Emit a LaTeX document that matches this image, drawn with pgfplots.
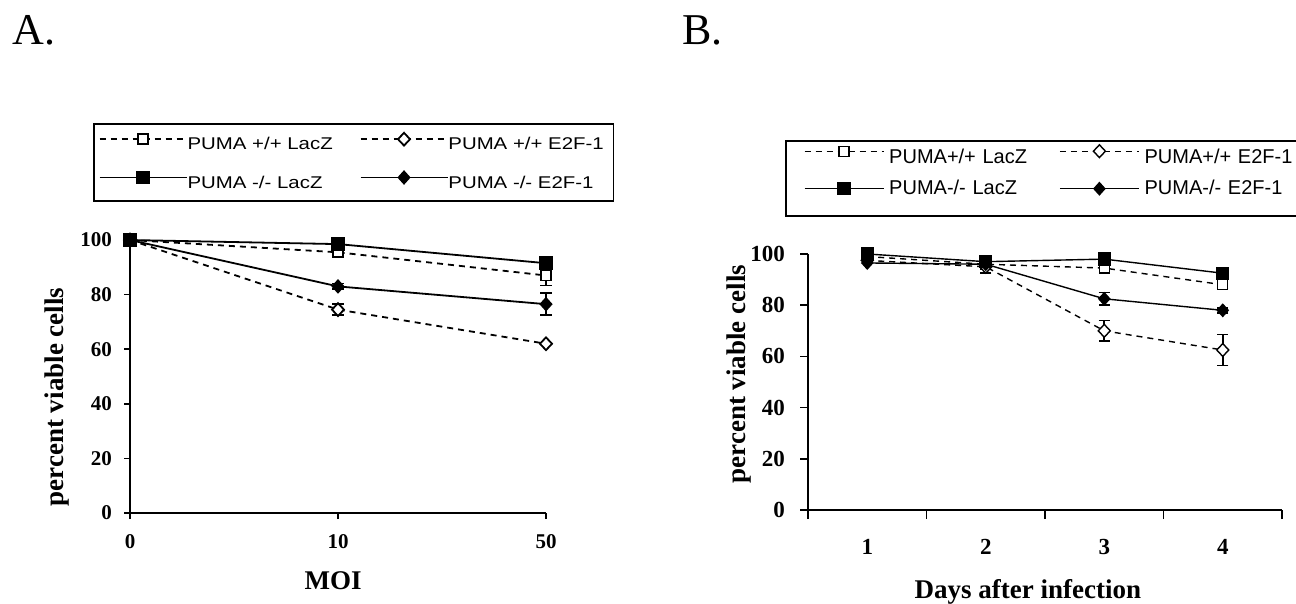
\documentclass[border=0pt]{standalone}
\usepackage{fontspec}
\setmainfont{Liberation Serif}
\newfontfamily\legA[FakeStretch=1.2]{Liberation Sans}
\newfontfamily\legB{Liberation Sans}
\usepackage{pgfplots}
\pgfplotsset{compat=1.18}

\pgfplotsset{
  panel/.style={
    scale only axis, axis lines=left, axis line style={-, line width=0.9pt},
    enlargelimits=false, clip=false, tick align=outside,
    ymin=0, ymax=100, ytick={0,20,...,100},
    /pgf/number format/assume math mode=true,
    every tick/.style={black, line width=0.8pt},
    legend cell align=left,
  },
  % error bars only, drawn under the series
  errs/.style={black, only marks, mark=none, forget plot,
    error bars/.cd, y dir=both, y explicit,
    error bar style={solid, line width=0.8pt},
    error mark options={rotate=90, solid, line width=0.8pt, mark size=2.8pt}},
  wtlac/.style={black, line width=#1, dash pattern=on 3pt off 2.5pt,
    mark=square*, mark size=2.5pt, mark options={solid, fill=white, draw=black}},
  wte2f/.style={black, line width=#1, dash pattern=on 3pt off 2.5pt,
    mark=diamond*, mark size=3.2pt, mark options={solid, fill=white, draw=black, xscale=1.25}},
  kolac/.style={black, line width=#1, solid, mark=square*, mark size=3pt},
  koe2f/.style={black, line width=#1, solid, mark=diamond*, mark size=3pt,
    mark options={xscale=1.2}},
}

\begin{document}
\begin{tikzpicture}
\path[use as bounding box] (0,0) rectangle (648pt,-302pt);

\node[anchor=base west, inner sep=0pt, font=\fontsize{22}{24}\selectfont] at (6pt,-22.5pt) {A.};
\node[anchor=base west, inner sep=0pt, font=\fontsize{22}{24}\selectfont] at (341pt,-22.5pt) {B.};

% panel A: viability against MOI
\begin{axis}[panel,
  at={(65pt,-256.5pt)}, anchor=south west,
  width=208pt, height=136.5pt,
  xmin=0, xmax=2, xtick={0,1,2}, xticklabels={0,10,50},
  major tick length=3pt,
  tick label style={font=\bfseries\fontsize{10.5}{12}\selectfont},
  xticklabel shift=4.3pt, yticklabel shift=2.5pt,
  xlabel={MOI}, ylabel={percent viable cells},
  label style={font=\bfseries\fontsize{13.5}{15}\selectfont},
  xlabel style={at={(axis description cs:0.488,-0.249)}, anchor=center},
  ylabel style={at={(axis description cs:-0.175,0.425)}, anchor=center, rotate=0},
  legend columns=2,
  legend image code/.code={\draw[mark repeat=2, mark phase=2, #1]
    plot coordinates {(0pt,3pt) (21.75pt,3pt) (43.5pt,3pt)};},
  legend style={at={(axis description cs:-0.0889,1.4286)}, anchor=north west,
    draw=black, line width=0.8pt, font=\legA\fontsize{8.5}{10}\selectfont,
    inner xsep=2.5pt, inner ysep=4.5pt, row sep=9pt, column sep=0pt,
    nodes={inner sep=0pt, text height=6.5pt, text depth=1.8pt},
    /tikz/every even column/.append style={column sep=6pt, text width=80pt}},
]
\addplot[errs] coordinates {(2,87) +- (0,3.6) (1,74.5) +- (0,2)
  (1,98.5) +- (0,1) (1,83) +- (0,1) (2,76.5) +- (0,4)};
\addplot[wtlac=0.9pt] coordinates {(0,100) (1,95.5) (2,87)};
\addlegendentry{PUMA +/+ LacZ}
\addplot[wte2f=0.9pt] coordinates {(0,100) (1,74.5) (2,62)};
\addlegendentry{PUMA +/+ E2F-1}
\addplot[kolac=0.9pt] coordinates {(0,100) (1,98.5) (2,91.5)};
\addlegendentry{PUMA -/- LacZ}
\addplot[koe2f=0.9pt] coordinates {(0,100) (1,83) (2,76.5)};
\addlegendentry{PUMA -/- E2F-1}
\end{axis}

% panel B: viability against days after infection
\begin{axis}[panel,
  at={(404pt,-255pt)}, anchor=south west,
  width=237pt, height=128pt,
  xmin=0.5, xmax=4.5, xtick={1,2,3,4},
  minor xtick={0.5,1.5,2.5,3.5,4.5},
  major x tick style={draw=none},
  major tick length=4pt, minor tick length=4.5pt,
  tick label style={font=\bfseries\fontsize{11.5}{13}\selectfont},
  xticklabel shift=7pt, yticklabel shift=4pt,
  xlabel={Days after infection}, ylabel={percent viable cells},
  label style={font=\bfseries\fontsize{13.5}{15}\selectfont},
  xlabel style={at={(axis description cs:0.464,-0.32)}, anchor=center},
  ylabel style={at={(axis description cs:-0.146,0.531)}, anchor=center, rotate=0},
  legend columns=2,
  legend image code/.code={\draw[mark repeat=2, mark phase=2, #1]
    plot coordinates {(0pt,3.6pt) (19.75pt,3.6pt) (39.5pt,3.6pt)};},
  legend style={at={(axis description cs:-0.0485,1.4453)}, anchor=north west,
    draw=black, line width=0.8pt, font=\legB\fontsize{10}{12}\selectfont,
    inner xsep=9pt, inner ysep=2pt, row sep=5.8pt, column sep=2.5pt,
    nodes={inner sep=0pt, text height=7.5pt, text depth=2.2pt},
    /tikz/every even column/.append style={column sep=5pt, text width=80pt},
    /tikz/row 2/.style={nodes={text depth=8.7pt}}},
]
\addplot[errs] coordinates {(3,94.5) +- (0,1) (4,88) +- (0,1.5)
  (2,95) +- (0,2.5) (3,70) +- (0,4) (4,62.5) +- (0,6)
  (3,82.5) +- (0,2.5) (4,78) +- (0,1)};
\addplot[wtlac=0.7pt] coordinates {(1,99) (2,96) (3,94.5) (4,88)};
\addlegendentry{PUMA+/+ LacZ}
\addplot[wte2f=0.7pt] coordinates {(1,97.5) (2,95) (3,70) (4,62.5)};
\addlegendentry{PUMA+/+ E2F-1}
\addplot[kolac=0.7pt] coordinates {(1,100) (2,97) (3,98) (4,92.5)};
\addlegendentry{PUMA-/- LacZ}
\addplot[koe2f=0.7pt] coordinates {(1,96.5) (2,96) (3,82.5) (4,78)};
\addlegendentry{PUMA-/- E2F-1}
\end{axis}
\end{tikzpicture}
\end{document}
